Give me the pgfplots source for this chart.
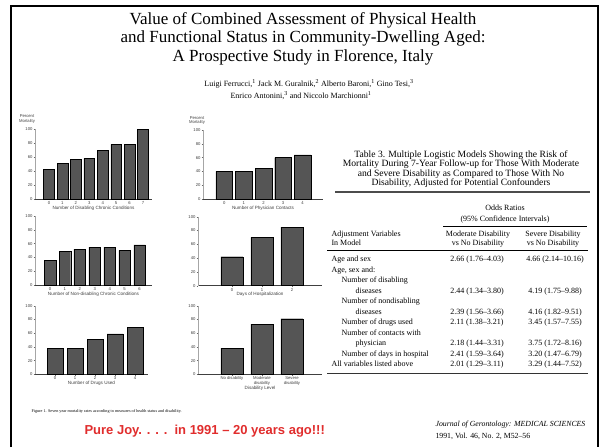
\documentclass[border=0pt]{standalone}
\usepackage{pgfplots}
\pgfplotsset{compat=1.18}
\usepackage{fontspec}
\setmainfont{Liberation Serif}
\newfontfamily\sansf{Liberation Sans}
\definecolor{bargray}{RGB}{85,85,85}
\definecolor{joyred}{RGB}{225,45,45}
\pgfplotsset{
  mini/.style={
    scale only axis, anchor=south west,
    ybar, ymin=0, ymax=100, ytick={0,20,40,60,80,100},
    enlargelimits=false,
    axis x line*=bottom, axis y line*=left,
    x axis line style={-, black!75, line width=0.5pt},
    y axis line style={-, black!35, line width=0.4pt},
    tick style={black!60, line width=0.3pt},
    major tick length=1.5pt, tick align=outside,
    xtick=data,
    /pgf/number format/assume math mode=true,
    ticklabel style={font=\sansf\fontsize{4.2}{4.7}\selectfont, text=black!75},
    xticklabel style={inner sep=0.8pt},
    yticklabel style={inner sep=0.8pt},
    xlabel style={font=\sansf\fontsize{4.6}{5}\selectfont, text=black!75, at={(axis description cs:0.5,0)}, anchor=center, yshift=-9pt},
    cycle list={{fill=bargray, draw=black!85, line width=0.3pt}},
    clip=false,
  },
}
\begin{document}
\begin{tikzpicture}
\useasboundingbox (0pt,0pt) rectangle (602pt,447pt);
\fill[white] (0pt,0pt) rectangle (602pt,447pt);
\draw[line width=2pt] (11pt,0pt) -- (11pt,440.5pt) -- (598pt,440.5pt) -- (598pt,0pt);

% Title and authors
\node[font=\fontsize{17}{19}\selectfont] at (303pt,427pt) {Value of Combined Assessment of Physical Health};
\node[font=\fontsize{17}{19}\selectfont] at (303pt,409pt) {and Functional Status in Community-Dwelling Aged:};
\node[font=\fontsize{17}{19}\selectfont] at (303pt,390pt) {A Prospective Study in Florence, Italy};
\node[font=\fontsize{8}{9}\selectfont] at (309pt,363pt) {Luigi Ferrucci,\textsuperscript{1} Jack M. Guralnik,\textsuperscript{2} Alberto Baroni,\textsuperscript{1} Gino Tesi,\textsuperscript{3}};
\node[font=\fontsize{8}{9}\selectfont] at (301pt,351pt) {Enrico Antonini,\textsuperscript{3} and Niccolo Marchionni\textsuperscript{1}};

% Chart 1
\begin{axis}[mini, at={(35pt,248pt)}, width=117pt, height=70pt, xmin=-1.04, xmax=7.67, bar width=10.7pt,
  xticklabels={0,1,2,3,4,5,6,7}, xlabel={Number of Disabling Chronic Conditions}]
\addplot coordinates {(0,42) (1,51) (2,57) (3,58) (4,69) (5,78) (6,78) (7,99)};
\end{axis}
\node[font=\sansf\fontsize{4.2}{4.7}\selectfont, text=black!75, align=center] at (27pt,328pt) {Percent\\Mortality};

% Chart 2
\begin{axis}[mini, at={(203pt,248pt)}, width=120pt, height=69pt, xmin=-1.09, xmax=5.04, bar width=16.7pt,
  xticklabels={0,1,2,3,4}, xlabel={Number of Physician Contacts}]
\addplot coordinates {(0,40) (1,40) (2,44) (3,60) (4,64)};
\end{axis}
\node[font=\sansf\fontsize{4.2}{4.7}\selectfont, text=black!75, align=center] at (197pt,326.5pt) {Percent\\Mortality};

% Chart 3
\begin{axis}[mini, at={(35pt,162pt)}, width=117pt, height=69pt, xmin=-1.0, xmax=6.83, bar width=11.7pt,
  xticklabels={0,1,2,3,4,5,6}, xlabel={Number of Non-disabling Chronic Conditions}]
\addplot coordinates {(0,36) (1,49) (2,52) (3,55) (4,55) (5,50) (6,58)};
\end{axis}

% Chart 4
\begin{axis}[mini, at={(198pt,161.3pt)}, width=124pt, height=69pt, xmin=-1.13, xmax=3.0, bar width=22pt,
  xticklabels={0,1,2}, xlabel={Days of Hospitalization}]
\addplot coordinates {(0,42) (1,70) (2,85)};
\end{axis}

% Chart 5
\begin{axis}[mini, at={(35pt,72.7pt)}, width=113pt, height=68.6pt, xmin=-1.0, xmax=4.65, bar width=16pt,
  xticklabels={0,1,2,3,4}, xlabel={Number of Drugs Used}]
\addplot coordinates {(0,38) (1,38) (2,51) (3,59) (4,68)};
\end{axis}

% Chart 6
\begin{axis}[mini, at={(198pt,72.7pt)}, width=124pt, height=68.6pt, xmin=-1.13, xmax=3.0, bar width=22pt,
  xticklabels={No disability,{Moderate\\disability},{Severe\\disability}}, xticklabel style={align=center},
  xlabel={Disability Level}, xlabel style={yshift=-5.5pt}]
\addplot coordinates {(0,38) (1,73) (2,81)};
\end{axis}

\node[anchor=mid west, font=\fontsize{4.2}{5}\selectfont] at (28pt,37pt) {Figure 1. Seven year mortality rates according to measures of health status and disability.};

% Table
\begin{scope}[font=\fontsize{9.6}{10}\selectfont]
\node[anchor=mid] at (461pt,292pt) {Table 3. Multiple Logistic Models Showing the Risk of};
\node[anchor=mid] at (461pt,282.5pt) {Mortality During 7-Year Follow-up for Those With Moderate};
\node[anchor=mid] at (461pt,273pt) {and Severe Disability as Compared to Those With No};
\node[anchor=mid] at (461pt,263.5pt) {Disability, Adjusted for Potential Confounders};
\end{scope}
\draw[line width=1.5pt, black!70] (335pt,255pt) -- (590pt,255pt);
\begin{scope}[font=\fontsize{8}{9}\selectfont]
\node[anchor=mid] at (505pt,239pt) {Odds Ratios};
\node[anchor=mid] at (505pt,228pt) {(95\% Confidence Intervals)};
\draw[line width=0.5pt] (443pt,221pt) -- (587pt,221pt);
\node[anchor=mid west] at (328pt,213pt) {Adjustment Variables};
\node[anchor=mid west] at (328pt,204pt) {In Model};
\node[anchor=mid] at (478pt,213pt) {Moderate Disability};
\node[anchor=mid] at (478pt,204pt) {vs No Disability};
\node[anchor=mid] at (553pt,213pt) {Severe Disability};
\node[anchor=mid] at (553pt,204pt) {vs No Disability};
\draw[line width=0.5pt] (327pt,197pt) -- (588pt,197pt);
\node[anchor=mid west] at (328pt,187.7pt) {Age and sex};
\node[anchor=mid] at (477pt,187.7pt) {2.66 (1.76–4.03)};
\node[anchor=mid] at (555pt,187.7pt) {4.66 (2.14–10.16)};
\node[anchor=mid west] at (328pt,177.2pt) {Age, sex and:};
\node[anchor=mid west] at (338pt,166.7pt) {Number of disabling};
\node[anchor=mid west] at (352pt,156.2pt) {diseases};
\node[anchor=mid] at (477pt,156.2pt) {2.44 (1.34–3.80)};
\node[anchor=mid] at (555pt,156.2pt) {4.19 (1.75–9.88)};
\node[anchor=mid west] at (338pt,145.7pt) {Number of nondisabling};
\node[anchor=mid west] at (352pt,135.2pt) {diseases};
\node[anchor=mid] at (477pt,135.2pt) {2.39 (1.56–3.66)};
\node[anchor=mid] at (555pt,135.2pt) {4.16 (1.82–9.51)};
\node[anchor=mid west] at (338pt,124.7pt) {Number of drugs used};
\node[anchor=mid] at (477pt,124.7pt) {2.11 (1.38–3.21)};
\node[anchor=mid] at (555pt,124.7pt) {3.45 (1.57–7.55)};
\node[anchor=mid west] at (338pt,114.2pt) {Number of contacts with};
\node[anchor=mid west] at (352pt,103.7pt) {physician};
\node[anchor=mid] at (477pt,103.7pt) {2.18 (1.44–3.31)};
\node[anchor=mid] at (555pt,103.7pt) {3.75 (1.72–8.16)};
\node[anchor=mid west] at (338pt,93.2pt) {Number of days in hospital};
\node[anchor=mid] at (477pt,93.2pt) {2.41 (1.59–3.64)};
\node[anchor=mid] at (555pt,93.2pt) {3.20 (1.47–6.79)};
\node[anchor=mid west] at (328pt,82.7pt) {All variables listed above};
\node[anchor=mid] at (477pt,82.7pt) {2.01 (1.29–3.11)};
\node[anchor=mid] at (555pt,82.7pt) {3.29 (1.44–7.52)};
\end{scope}
\draw[line width=0.8pt, black!80] (327pt,74pt) -- (588pt,74pt);

% Journal
\node[anchor=mid west, font=\fontsize{7.8}{9}\selectfont\itshape] at (432pt,23pt) {Journal of Gerontology: MEDICAL SCIENCES};
\node[anchor=mid west, font=\fontsize{7.8}{9}\selectfont] at (432pt,11pt) {1991, Vol. 46, No. 2, M52–56};

% Red remark
\node[anchor=mid west, font=\sansf\bfseries\fontsize{13}{14}\selectfont, text=joyred] at (81pt,15pt) {Pure Joy. . . .\ \ in 1991 – 20 years ago!!!};
\end{tikzpicture}
\end{document}
